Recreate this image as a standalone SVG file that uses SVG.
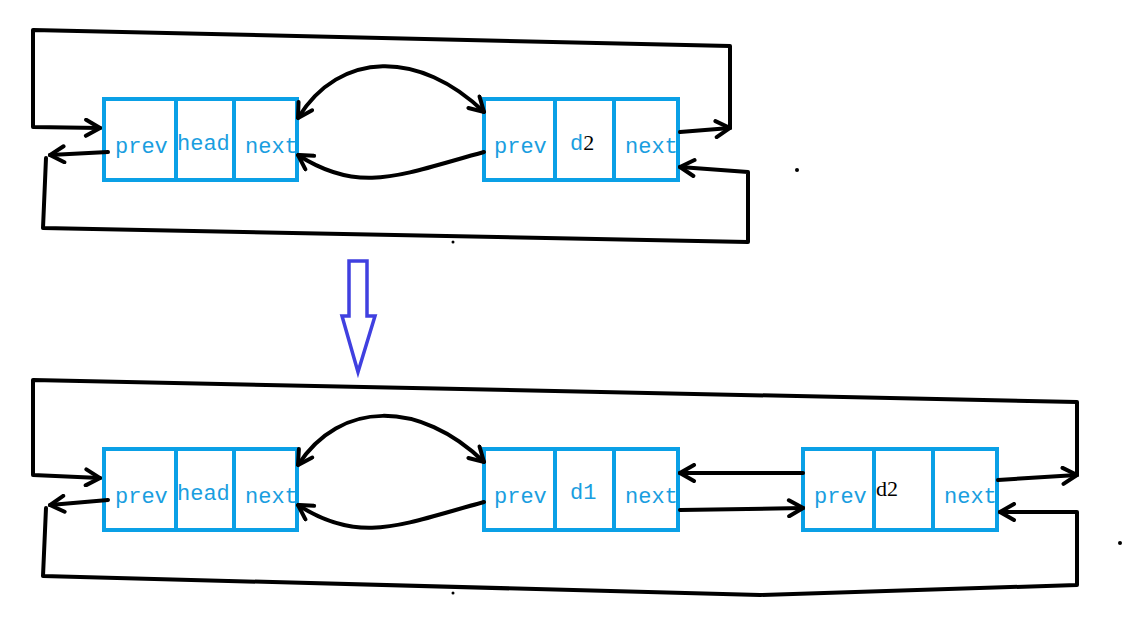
<svg xmlns="http://www.w3.org/2000/svg" width="1135" height="626" viewBox="0 0 1135 626">
<style>
.box{fill:#fff;stroke:#0aa0e6;stroke-width:4}
.t{font-family:"Liberation Mono",monospace;font-size:22px;fill:#1a9ee0}
.k{fill:#000;font-family:"Liberation Serif",serif}
.c{fill:none;stroke:#000;stroke-width:4;stroke-linecap:round;stroke-linejoin:round}
</style>
<defs>
<marker id="a" viewBox="0 0 20 20" refX="18" refY="10" markerWidth="20" markerHeight="20" markerUnits="userSpaceOnUse" orient="auto-start-reverse">
<polyline points="4,2 18,10 4,18" fill="none" stroke="#000" stroke-width="4" stroke-linecap="round"/>
</marker>
</defs>
<rect width="1135" height="626" fill="#fff"/>
<g id="top-head"><rect class="box" x="104" y="99" width="193" height="81"/><path class="box" d="M176,99V182M234,99V180"/>
<text class="t" x="115" y="153">prev</text><text class="t" x="177" y="150">head</text><text class="t" x="245" y="153">next</text></g>
<g id="top-d2"><rect class="box" x="484" y="99" width="194" height="81"/><path class="box" d="M555,99V182M614,99V180"/>
<text class="t" x="494" y="153">prev</text><text class="t" x="570" y="150">d<tspan class="k">2</tspan></text><text class="t" x="625" y="153">next</text></g>
<g id="bot-head"><rect class="box" x="104" y="449" width="193" height="81"/><path class="box" d="M176,449V532M234,449V530"/>
<text class="t" x="115" y="503">prev</text><text class="t" x="177" y="500">head</text><text class="t" x="245" y="503">next</text></g>
<g id="bot-d1"><rect class="box" x="484" y="449" width="194" height="81"/><path class="box" d="M555,449V532M614,449V530"/>
<text class="t" x="494" y="503">prev</text><text class="t" x="570" y="499">d1</text><text class="t" x="625" y="503">next</text></g>
<g id="bot-d2"><rect class="box" x="803" y="449" width="194" height="81"/><path class="box" d="M874,449V532M933,449V530"/>
<text class="t" x="814" y="503">prev</text><text class="t k" x="876" y="496" font-size="22">d2</text><text class="t" x="944" y="503">next</text></g>
<g id="connectors">
<path class="c" d="M680,132L730,128" marker-end="url(#a)"/>
<path class="c" d="M730,128L730,46L33,30L33,127L100,128" marker-end="url(#a)"/>
<path class="c" d="M108,152L50,155" marker-end="url(#a)"/>
<path class="c" d="M46,158L43,228L748,242L748,172L680,167" marker-end="url(#a)"/>
<path class="c" d="M298,118C340,50 420,50 484,112" marker-start="url(#a)" marker-end="url(#a)"/>
<path class="c" d="M484,152C400,175 360,195 298,155" marker-end="url(#a)"/>
<path class="c" d="M998,480L1077,475" marker-end="url(#a)"/>
<path class="c" d="M1077,475L1077,402L33,380L33,475L100,478" marker-end="url(#a)"/>
<path class="c" d="M108,500L50,505" marker-end="url(#a)"/>
<path class="c" d="M46,508L43,576L760,595L1077,585L1077,512L1000,512" marker-end="url(#a)"/>
<path class="c" d="M298,465C340,400 420,400 484,462" marker-start="url(#a)" marker-end="url(#a)"/>
<path class="c" d="M484,502C400,525 360,545 298,505" marker-end="url(#a)"/>
<path class="c" d="M803,473L680,473" marker-end="url(#a)"/>
<path class="c" d="M680,510L803,508" marker-end="url(#a)"/>
</g>
<path d="M349,261H367V316H375L358,372L342,316H349Z" fill="#fff" stroke="#4040e0" stroke-width="3.5"/>
<g fill="#000"><circle cx="797" cy="170" r="2"/><circle cx="453" cy="242" r="1.5"/><circle cx="1120" cy="543" r="2"/><circle cx="453" cy="593" r="1.5"/></g>
</svg>
